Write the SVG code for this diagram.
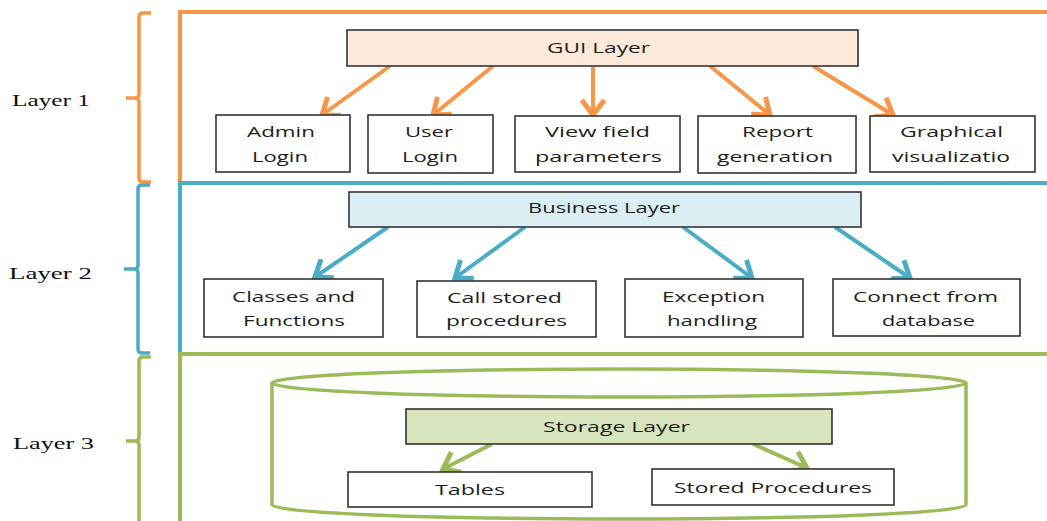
<svg xmlns="http://www.w3.org/2000/svg" width="1047" height="521" viewBox="0 0 1047 521">
<defs>
<style>
.bx{fill:#fff;stroke:#333;stroke-width:1.6}
.t{font-family:"Open Sans","Liberation Sans",sans-serif;font-size:15px;fill:#1e1e1e}
.lt{font-family:"Liberation Serif","DejaVu Serif",serif;font-size:17.5px;fill:#111}
.fr{fill:none;stroke-width:4}
.o{stroke:#f79646}
.b{stroke:#4bacc6}
.g{stroke:#9bbb59}
.ar{fill:none;stroke-width:4;stroke-linecap:butt}
</style>
<marker id="mo" markerUnits="userSpaceOnUse" markerWidth="30" markerHeight="30" viewBox="-16 -12 20 24" refX="0" refY="0" orient="auto"><path d="M-12,-9 L0,0 L-12,9" fill="none" stroke="#f79646" stroke-width="4" stroke-linejoin="miter"/></marker>
<marker id="mb" markerUnits="userSpaceOnUse" markerWidth="30" markerHeight="30" viewBox="-16 -12 20 24" refX="0" refY="0" orient="auto"><path d="M-12,-9 L0,0 L-12,9" fill="none" stroke="#4bacc6" stroke-width="4" stroke-linejoin="miter"/></marker>
<marker id="mg" markerUnits="userSpaceOnUse" markerWidth="30" markerHeight="30" viewBox="-16 -12 20 24" refX="0" refY="0" orient="auto"><path d="M-12,-9 L0,0 L-12,9" fill="none" stroke="#9bbb59" stroke-width="4" stroke-linejoin="miter"/></marker>
</defs>
<rect width="1047" height="521" fill="#fff"/>

<g id="frames">
<path class="fr o" d="M1050,12 H180 V183"/>
<path class="fr b" d="M1050,183 H180 V354"/>
<path class="fr g" d="M1050,354 H180 V525"/>
</g>

<g id="braces" fill="none" stroke-width="3.5">
<path class="o" d="M151,13 H143 Q139,13 139,17 V94 Q139,98 135,98 H126 M135,98 Q139,98 139,102 V178 Q139,182 143,182 H151"/>
<path class="b" d="M150,185 H142 Q138,185 138,189 V265 Q138,269 134,269 H124 M134,269 Q138,269 138,273 V349 Q138,353 142,353 H150"/>
<path class="g" d="M151,357 H143 Q139,357 139,361 V437 Q139,441 135,441 H126 M135,441 Q139,441 139,445 V525"/>
</g>

<g id="layer-labels">
<text class="lt" x="12" y="106" textLength="78" lengthAdjust="spacingAndGlyphs">Layer 1</text>
<text class="lt" x="9" y="279" textLength="83" lengthAdjust="spacingAndGlyphs">Layer 2</text>
<text class="lt" x="13" y="449" textLength="81" lengthAdjust="spacingAndGlyphs">Layer 3</text>
</g>

<g id="cylinder">
<path d="M272,383 V505 A347,14 0 0 0 966,505 V383" fill="#fff" stroke="#9bbb59" stroke-width="3.5"/>
<ellipse cx="619" cy="383" rx="347" ry="14" fill="#fff" stroke="#9bbb59" stroke-width="3.5"/>
</g>

<g id="connectors">
<line class="ar o" x1="390" y1="66" x2="322" y2="115" marker-end="url(#mo)"/>
<line class="ar o" x1="493" y1="66" x2="433" y2="115" marker-end="url(#mo)"/>
<line class="ar o" x1="593" y1="67" x2="593" y2="115" marker-end="url(#mo)"/>
<line class="ar o" x1="710" y1="66" x2="770" y2="115" marker-end="url(#mo)"/>
<line class="ar o" x1="813" y1="66" x2="893" y2="115" marker-end="url(#mo)"/>
<line class="ar b" x1="388" y1="227" x2="315" y2="277" marker-end="url(#mb)"/>
<line class="ar b" x1="525" y1="227" x2="455" y2="278" marker-end="url(#mb)"/>
<line class="ar b" x1="683" y1="227" x2="752" y2="278" marker-end="url(#mb)"/>
<line class="ar b" x1="835" y1="227" x2="910" y2="278" marker-end="url(#mb)"/>
<line class="ar g" x1="492" y1="444" x2="443" y2="469" marker-end="url(#mg)"/>
<line class="ar g" x1="753" y1="444" x2="807" y2="468" marker-end="url(#mg)"/>
</g>

<g id="gui-layer">
<rect class="bx" x="347" y="30" width="511" height="36" style="fill:#fde9d9"/>
<text class="t" x="547" y="53" textLength="103" lengthAdjust="spacingAndGlyphs">GUI Layer</text>
</g>
<g id="admin-login">
<rect class="bx" x="216" y="115" width="134" height="57"/>
<text class="t" x="247" y="137" textLength="68" lengthAdjust="spacingAndGlyphs">Admin</text>
<text class="t" x="252" y="162" textLength="56" lengthAdjust="spacingAndGlyphs">Login</text>
</g>
<g id="user-login">
<rect class="bx" x="368" y="115" width="125" height="58"/>
<text class="t" x="405" y="137" textLength="48" lengthAdjust="spacingAndGlyphs">User</text>
<text class="t" x="402" y="162" textLength="56" lengthAdjust="spacingAndGlyphs">Login</text>
</g>
<g id="view-field">
<rect class="bx" x="515" y="116" width="165" height="56"/>
<text class="t" x="545" y="137" textLength="105" lengthAdjust="spacingAndGlyphs">View field</text>
<text class="t" x="535" y="162" textLength="127" lengthAdjust="spacingAndGlyphs">parameters</text>
</g>
<g id="report-generation">
<rect class="bx" x="698" y="116" width="158" height="57"/>
<text class="t" x="742" y="137" textLength="71" lengthAdjust="spacingAndGlyphs">Report</text>
<text class="t" x="717" y="162" textLength="116" lengthAdjust="spacingAndGlyphs">generation</text>
</g>
<g id="graphical-visualization">
<rect class="bx" x="870" y="116" width="165" height="56"/>
<text class="t" x="900" y="137" textLength="103" lengthAdjust="spacingAndGlyphs">Graphical</text>
<text class="t" x="892" y="162" textLength="118" lengthAdjust="spacingAndGlyphs">visualizatio</text>
</g>

<g id="business-layer">
<rect class="bx" x="349" y="192" width="512" height="35" style="fill:#daeef3"/>
<text class="t" x="528" y="213" textLength="152" lengthAdjust="spacingAndGlyphs">Business Layer</text>
</g>
<g id="classes-functions">
<rect class="bx" x="204" y="279" width="179" height="58"/>
<text class="t" x="232" y="302" textLength="123" lengthAdjust="spacingAndGlyphs">Classes and</text>
<text class="t" x="243" y="326" textLength="102" lengthAdjust="spacingAndGlyphs">Functions</text>
</g>
<g id="call-stored-procedures">
<rect class="bx" x="417" y="281" width="179" height="56"/>
<text class="t" x="447" y="303" textLength="115" lengthAdjust="spacingAndGlyphs">Call stored</text>
<text class="t" x="446" y="326" textLength="121" lengthAdjust="spacingAndGlyphs">procedures</text>
</g>
<g id="exception-handling">
<rect class="bx" x="625" y="279" width="178" height="58"/>
<text class="t" x="662" y="302" textLength="103" lengthAdjust="spacingAndGlyphs">Exception</text>
<text class="t" x="667" y="326" textLength="90" lengthAdjust="spacingAndGlyphs">handling</text>
</g>
<g id="connect-database">
<rect class="bx" x="833" y="279" width="187" height="57"/>
<text class="t" x="853" y="302" textLength="145" lengthAdjust="spacingAndGlyphs">Connect from</text>
<text class="t" x="882" y="326" textLength="93" lengthAdjust="spacingAndGlyphs">database</text>
</g>

<g id="storage-layer">
<rect class="bx" x="406" y="409" width="426" height="35" style="fill:#d7e4bd"/>
<text class="t" x="543" y="432" textLength="147" lengthAdjust="spacingAndGlyphs">Storage Layer</text>
</g>
<g id="tables">
<rect class="bx" x="348" y="472" width="244" height="35"/>
<text class="t" x="435" y="495" textLength="70" lengthAdjust="spacingAndGlyphs">Tables</text>
</g>
<g id="stored-procedures">
<rect class="bx" x="652" y="469" width="242" height="36"/>
<text class="t" x="674" y="493" textLength="198" lengthAdjust="spacingAndGlyphs">Stored Procedures</text>
</g>
</svg>
